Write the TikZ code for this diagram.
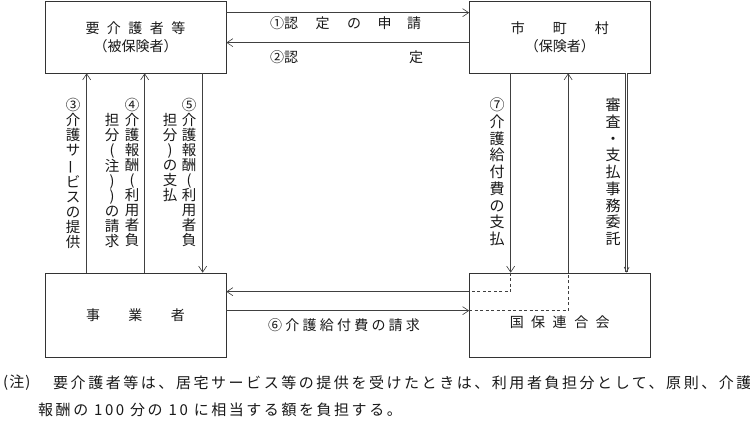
\documentclass[tikz,border=0pt]{standalone}
\usepackage{fontspec}
\setmainfont{Noto Sans CJK JP}
\usepackage{graphicx}
\usetikzlibrary{arrows.meta}
\newcommand{\vbarchar}{\rotatebox[origin=c]{90}{ー}}
\begin{document}
\begin{tikzpicture}[x=1pt,y=1pt,
  box/.style={draw=black!80, line width=0.7pt, minimum width=181pt, minimum height=72pt, inner sep=0pt},
  txt/.style={inner sep=0pt, text=black!90, font=\fontsize{14}{16}\selectfont},
  vt/.style={inner sep=0pt, anchor=north, align=center, text=black!90, font=\fontsize{14.5}{15}\selectfont},
  vtr/.style={inner sep=0pt, anchor=north, align=center, text=black!90, font=\fontsize{15}{16.7}\selectfont},
  arr/.style={draw=black!75, line width=0.6pt, -{Straight Barb[length=6pt,width=8pt]}},
  dsh/.style={draw=black!75, line width=0.6pt, dash pattern=on 3pt off 2.5pt},
  dbl/.style={draw=black!75, line width=0.6pt, double, double distance=1.6pt, -{Straight Barb[length=5pt,width=5pt]}},
  foot/.style={inner sep=0pt, anchor=west, text=black!90, font=\fontsize{15}{18}\selectfont\addfontfeature{LetterSpace=17}}]
\useasboundingbox (0,0) rectangle (750,-423);
\fill[white] (0,0) rectangle (750,-423);
% boxes
\node[box] (A) at (135.5,-37) {};
\node[box, minimum width=180.5pt] (B) at (559.75,-37) {};
\node[box, minimum height=84pt] (C) at (135.5,-315) {};
\node[box, minimum width=180.5pt, minimum height=84pt] (D) at (559.75,-315) {};
% box texts
\node[txt] (A1) at ([yshift=9]A.center) {要\hspace{7.5pt}介\hspace{7.5pt}護\hspace{7.5pt}者\hspace{7.5pt}等};
\node[txt] (A2) at ([yshift=-9]A.center) {（被保険者）};
\node[txt] (B1) at ([yshift=9]B.center) {市\hspace{28pt}町\hspace{28pt}村};
\node[txt] (B2) at ([yshift=-9]B.center) {（保険者）};
\node[txt] (C1) at (C.center) {事\hspace{28.5pt}業\hspace{28.5pt}者};
\node[txt] (D1) at ([yshift=-7]D.center) {国\hspace{7.5pt}保\hspace{7.5pt}連\hspace{7.5pt}合\hspace{7.5pt}会};
% top arrows
\draw[arr] ([yshift=-12]A.north east) -- ([yshift=-12]B.north west);
\draw[arr] ([yshift=-42]B.north west) -- ([yshift=-42]A.north east);
\node[txt, anchor=west] (L1) at (270,-23) {①認\hspace{17.5pt}定\hspace{17.5pt}の\hspace{16.5pt}申\hspace{15.5pt}請};
\node[txt, anchor=west] (L2) at (270,-57) {②認\hspace{111pt}定};
% left vertical arrows
\draw[arr] ([xshift=42]C.north west) -- ([xshift=42]A.south west);
\draw[arr] ([xshift=100]C.north west) -- ([xshift=100]A.south west);
\draw[arr] ([xshift=158]A.south west) -- ([xshift=158]C.north west);
\node[vt] (L3) at (73,-98) {③\\介\\護\\サ\\\vbarchar\\ビ\\ス\\の\\提\\供};
\node[vt] (L4a) at (132,-98) {④\\介\\護\\報\\酬\\(\\利\\用\\者\\負};
\node[vt] (L4b) at (112,-113) {担\\分\\(\\注\\)\\)\\の\\請\\求};
\node[vt] (L5a) at (189,-98) {⑤\\介\\護\\報\\酬\\(\\利\\用\\者\\負};
\node[vt] (L5b) at (170,-113) {担\\分\\)\\の\\支\\払};
% right vertical arrows
\draw[arr] ([xshift=41.5]B.south west) -- ([xshift=41.5]D.north west);
\draw[dsh] ([xshift=41.5]D.north west) |- ([yshift=-19]D.north west);
\draw[arr] ([yshift=-19]D.north west) -- ([yshift=-19]C.north east);
\draw[arr] ([yshift=-38]C.north east) -- ([yshift=-38]D.north west);
\draw[dsh] ([yshift=-38]D.north west) -| ([xshift=99]D.north west);
\draw[arr] ([xshift=99]D.north west) -- ([xshift=99]B.south west);
\draw[dbl] ([xshift=157.5]B.south west) -- ([xshift=157.5]D.north west);
\node[vtr] (L7) at (497,-98) {⑦\\介\\護\\給\\付\\費\\の\\支\\払};
\node[vtr] (L8) at (613,-98) {審\\査\\・\\支\\払\\事\\務\\委\\託};
% bottom label
\node[txt, anchor=west, font=\fontsize{14}{16}\selectfont\addfontfeature{LetterSpace=23}] (L6) at (268,-325) {⑥介護給付費の請求};
% footnote
\node[foot, font=\fontsize{15}{18}\selectfont] (F0) at (3,-383) {(\kern1pt 注\kern1pt)};
\node[foot] (F1) at (53,-383) {要介護者等は、居宅サービス等の提供を受けたときは、利用者負担分として、原則、介護};
\node[foot] (F2) at (38,-410) {報酬の 100 分の 10 に相当する額を負担する。};
\end{tikzpicture}
\end{document}
